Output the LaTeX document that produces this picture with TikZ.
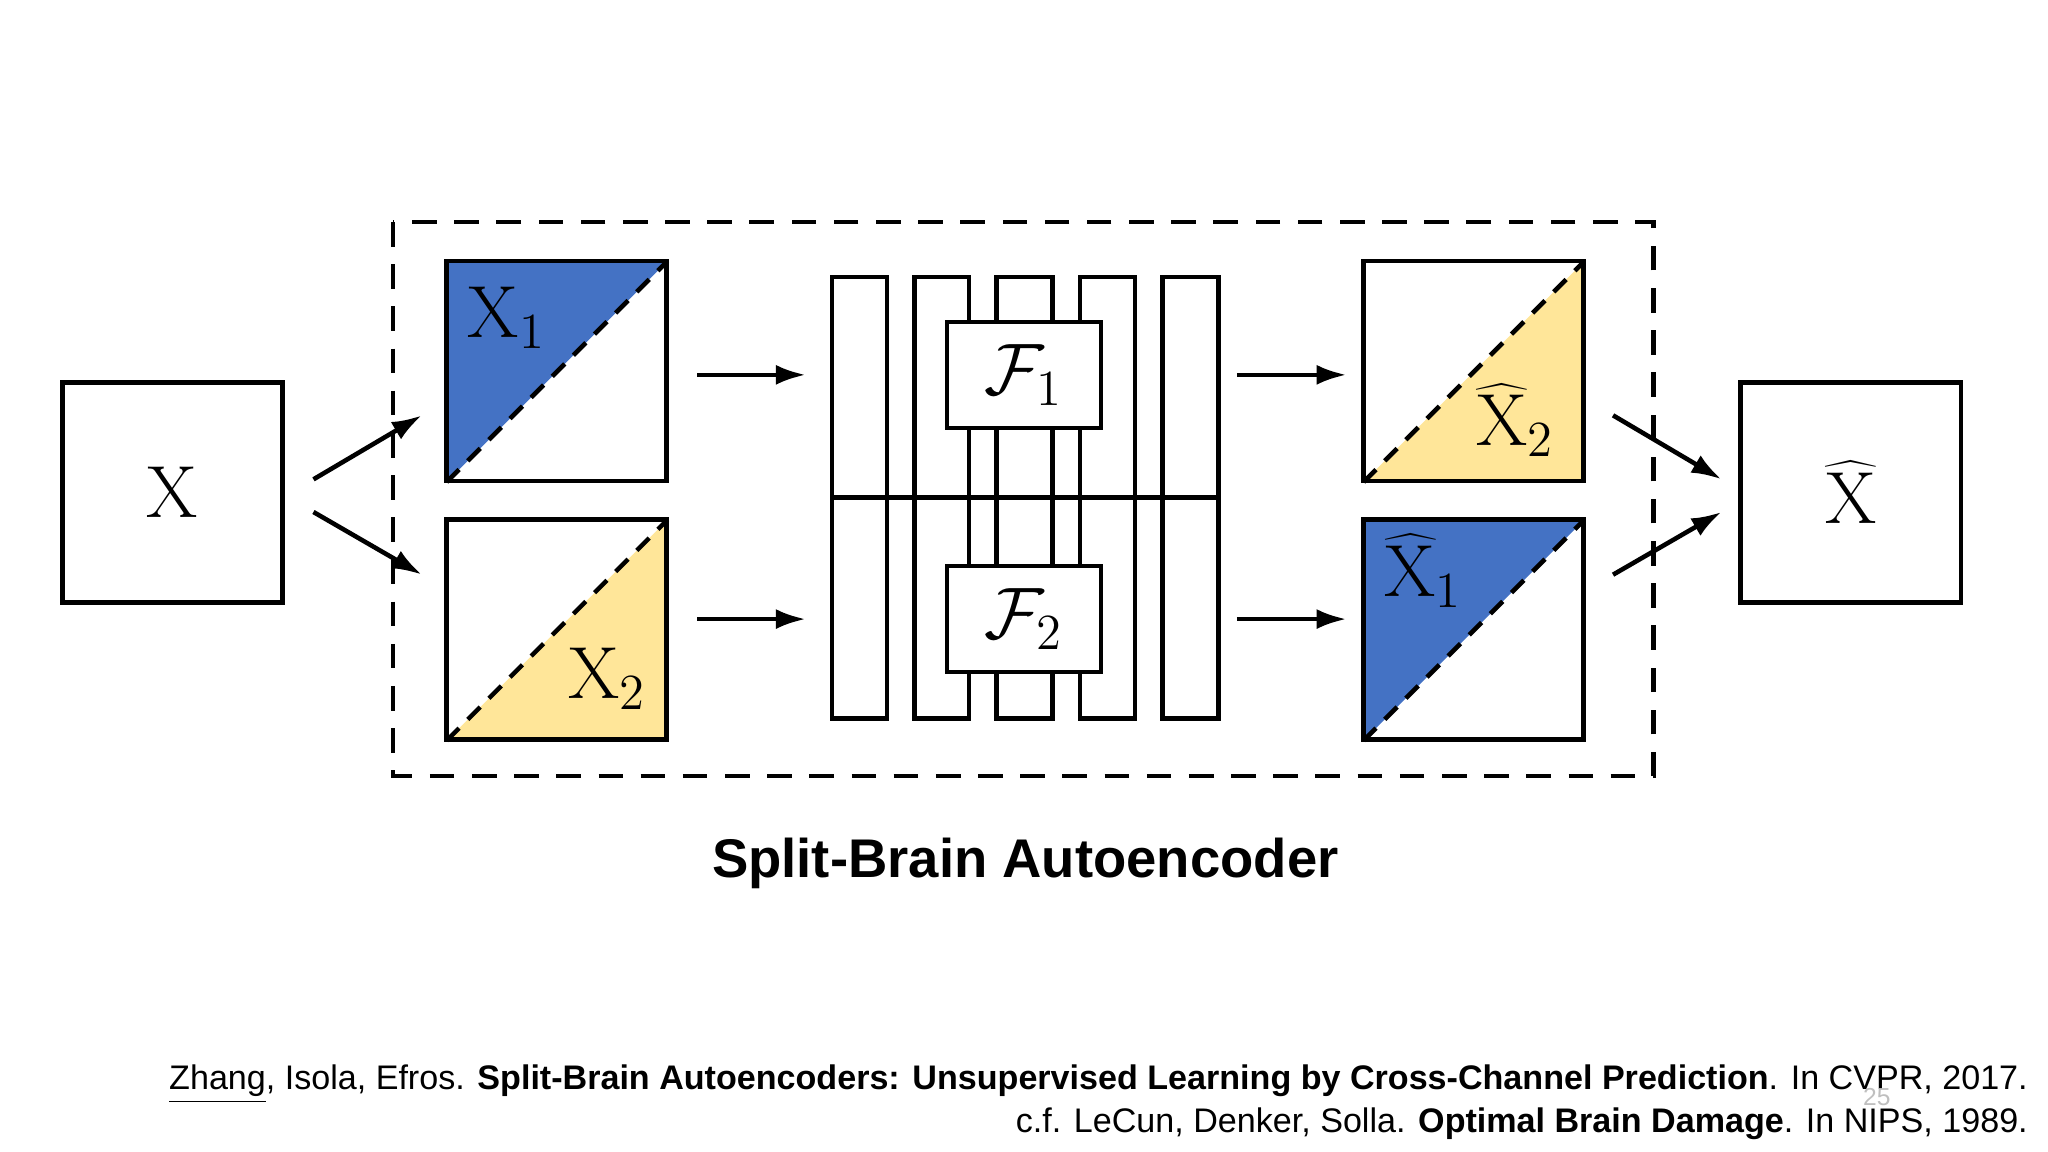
\documentclass[tikz,border=0pt]{standalone}
\usepackage{fontspec}
\newfontfamily\sans{Liberation Sans}
\usetikzlibrary{arrows.meta}
\definecolor{myblue}{RGB}{68,114,196}
\definecolor{myyellow}{RGB}{255,230,153}
\begin{document}
\begin{tikzpicture}[x=0.01306cm,y=-0.01306cm,
  box/.style={draw=black,line width=1.3pt},
  arr/.style={-{Latex[length=3mm,width=2mm]},line width=1.3pt},
  diag/.style={line width=1.3pt,dash pattern=on 5pt off 3.5pt},
  lab/.style={font=\fontsize{21}{24}\selectfont},
  bar/.style={draw=black,line width=1.3pt,fill=white}]
\useasboundingbox (0,0) rectangle (1568,882);
% dashed frame
\draw[line width=1.3pt,dash pattern=on 7pt off 5pt] (301,170) rectangle (1266,594);
% input / output
\node[box,minimum size=2.2cm] (x) at (132,377) {};
\node[lab] at (x) {$\mathrm{X}$};
\node[box,minimum size=2.2cm] (xh) at (1417,377) {};
\node[lab] at (xh) {$\widehat{\mathrm{X}}$};
% split inputs
\fill[myblue] (342,200) -- (511,200) -- (342,369) -- cycle;
\fill[myyellow] (511,398) -- (511,567) -- (342,567) -- cycle;
\draw[diag] (342,369) -- (511,200);
\draw[diag] (342,567) -- (511,398);
\node[box,minimum size=2.2cm] (x1) at (426,284) {};
\node[box,minimum size=2.2cm] (x2) at (426,482) {};
\node[lab] at (388,243) {$\mathrm{X}_1$};
\node[lab] at (465,520) {$\mathrm{X}_2$};
% split outputs
\fill[myyellow] (1213,200) -- (1213,369) -- (1044,369) -- cycle;
\fill[myblue] (1044,398) -- (1213,398) -- (1044,567) -- cycle;
\draw[diag] (1044,369) -- (1213,200);
\draw[diag] (1044,567) -- (1213,398);
\node[box,minimum size=2.2cm] (y2) at (1128,284) {};
\node[box,minimum size=2.2cm] (y1) at (1128,482) {};
\node[lab] at (1160,322) {$\widehat{\mathrm{X}}_2$};
\node[lab] at (1090,437) {$\widehat{\mathrm{X}}_1$};
% network bars
\foreach \a/\b in {637/679,700/742,763/806,827/869,890/933}{
  \draw[bar] (\a,212) rectangle (\b,550);
}
\draw[line width=1.3pt] (637,381) -- (933,381);
\node[bar,minimum width=1.54cm,minimum height=1.06cm,lab] (f1) at (784,287) {$\mathcal{F}_1$};
\node[bar,minimum width=1.54cm,minimum height=1.06cm,lab] (f2) at (784,474) {$\mathcal{F}_2$};
% arrows
\coordinate (a1) at (240,367); \coordinate (a2) at (323,318);
\coordinate (b1) at (240,392); \coordinate (b2) at (323,440);
\draw[arr] (a1) -- (a2); \draw[arr] (b1) -- (b2);
\coordinate (c1) at (534,287); \coordinate (c2) at (617,287);
\coordinate (d1) at (534,474); \coordinate (d2) at (617,474);
\draw[arr] (c1) -- (c2); \draw[arr] (d1) -- (d2);
\coordinate (e1) at (947,287); \coordinate (e2) at (1031,287);
\coordinate (g1) at (947,474); \coordinate (g2) at (1031,474);
\draw[arr] (e1) -- (e2); \draw[arr] (g1) -- (g2);
\coordinate (h1) at (1235,318); \coordinate (h2) at (1318,367);
\coordinate (k1) at (1235,440); \coordinate (k2) at (1318,392);
\draw[arr] (h1) -- (h2); \draw[arr] (k1) -- (k2);
% title and citation
\node[font=\sans\bfseries\fontsize{15.5}{18}\selectfont] (t) at (785,661) {Split-Brain Autoencoder};
\node[anchor=east,inner sep=0pt,font=\sans\fontsize{9.7}{11}\selectfont] (r1) at (1553,830) {\underline{Zhang}, Isola, Efros. \textbf{Split-Brain Autoencoders: Unsupervised Learning by Cross-Channel Prediction}. In CVPR, 2017.};
\node[anchor=east,inner sep=0pt,font=\sans\fontsize{9.7}{11}\selectfont] (r2) at (1553,860) {c.f. LeCun, Denker, Solla. \textbf{Optimal Brain Damage}. In NIPS, 1989.};
\node[font=\sans\fontsize{7}{8}\selectfont,text=black!25] (pg) at (1437,840) {25};
\end{tikzpicture}
\end{document}
